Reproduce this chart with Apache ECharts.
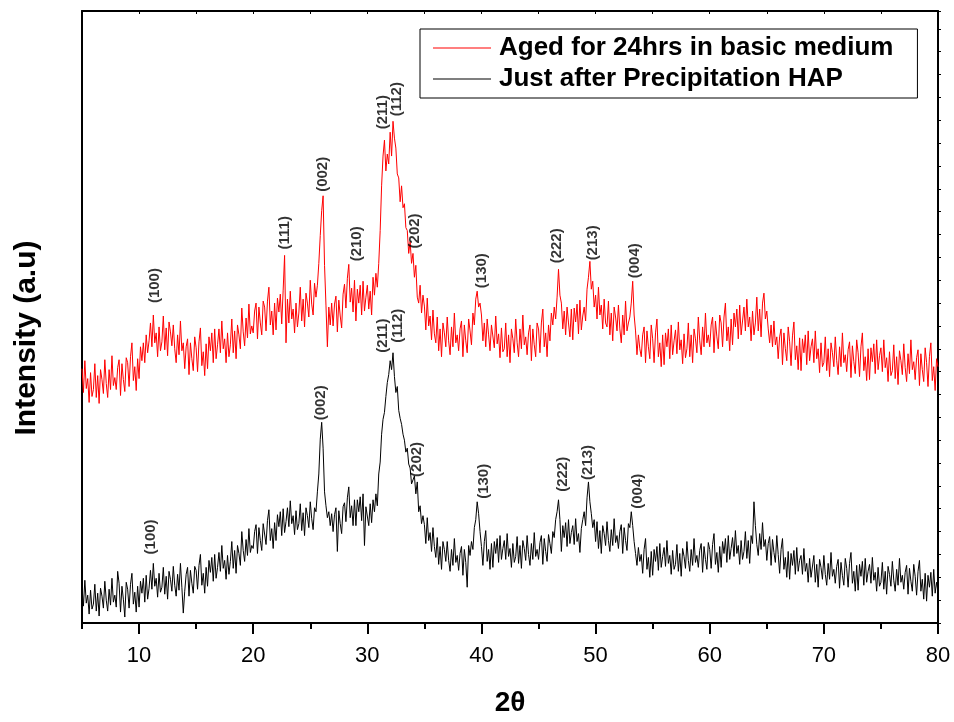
<!DOCTYPE html>
<html>
<head>
<meta charset="utf-8">
<script src="https://cdn.jsdelivr.net/npm/echarts@6/dist/echarts.min.js"></script>
<style>
  html, body { margin: 0; padding: 0; background: #fff; }
  #chart { width: 954px; height: 722px; }
</style>
</head>
<body>
<div id="chart"></div>
<script>
// 2theta grid, 0.125 deg steps from 5 to 80
const twoTheta = Array.from({ length: 601 }, (_, i) => 5 + i * 0.125);

// intensities (arbitrary units), 8 points per degree
const agedIntensity = [
  256, 232, 264, 236, 246, 222, 252, 228,  235, 261, 227, 249, 221, 255, 245, 231, // 5-6
  265, 241, 227, 255, 235, 269, 239, 247,  235, 257, 265, 229, 261, 245, 233, 267, // 7-8
  262, 238, 268, 282, 244, 258, 234, 266,  246, 278, 264, 282, 262, 290, 272, 284, // 9-10
  302, 278, 310, 282, 292, 268, 298, 274,  283, 309, 275, 297, 269, 303, 293, 279, // 11-12
  300, 276, 262, 290, 270, 304, 274, 282,  256, 278, 286, 250, 282, 266, 254, 288, // 13-14
  277, 253, 283, 297, 259, 273, 249, 281,  256, 288, 274, 292, 262, 296, 266, 280, // 15-16
  296, 272, 304, 276, 286, 262, 292, 268,  280, 306, 272, 294, 266, 300, 290, 276, // 17-18
  317, 293, 279, 307, 287, 321, 291, 299,  292, 314, 322, 286, 318, 302, 290, 324, // 19-20
  318, 294, 324, 338, 300, 314, 290, 322,  295, 327, 313, 331, 301, 335, 370, 282, // 21-22
  326, 302, 334, 306, 316, 292, 322, 298,  312, 338, 304, 326, 298, 332, 322, 308, // 23-24
  345, 321, 310, 342, 328, 340, 362, 390,  415, 430, 360, 320, 278, 318, 300, 322, // 25-26
  299, 321, 329, 293, 325, 309, 297, 331,  341, 317, 347, 361, 323, 337, 313, 345, // 27-28
  304, 336, 322, 340, 310, 344, 314, 328,  340, 316, 334, 310, 348, 330, 352, 338, // 29-30
  362, 395, 440, 470, 486, 455, 472, 462,  494, 470, 505, 488, 478, 452, 448, 424, // 31-32
  440, 418, 422, 398, 395, 372, 384, 362,  372, 348, 360, 328, 322, 340, 312, 330, // 33-34
  319, 295, 327, 299, 309, 285, 315, 291,  282, 308, 274, 296, 268, 302, 292, 278, // 35-36
  308, 284, 270, 298, 278, 312, 282, 290,  274, 296, 304, 268, 300, 284, 272, 306, // 37-38
  294, 280, 312, 300, 326, 334, 318, 322,  310, 284, 302, 278, 306, 290, 274, 300, // 39-40
  301, 277, 309, 281, 291, 267, 297, 273,  276, 302, 268, 290, 262, 296, 286, 272, // 41-42
  306, 282, 268, 296, 276, 310, 280, 288,  270, 292, 300, 264, 296, 280, 268, 302, // 43-44
  296, 272, 302, 316, 278, 292, 268, 300,  284, 312, 300, 318, 306, 328, 356, 330, // 45-46
  322, 296, 314, 290, 318, 302, 288, 316,  285, 317, 303, 321, 291, 325, 295, 309, // 47-48
  318, 304, 336, 348, 364, 336, 344, 318,  330, 306, 338, 310, 320, 296, 326, 302, // 49-50
  298, 324, 290, 312, 284, 318, 308, 294,  320, 296, 282, 310, 290, 324, 294, 302, // 51-52
  308, 322, 344, 310, 294, 270, 290, 276,  268, 290, 298, 262, 294, 278, 266, 300, // 53-54
  286, 262, 292, 306, 268, 282, 258, 290,  260, 292, 278, 296, 266, 300, 270, 284, // 55-56
  295, 271, 303, 275, 285, 261, 291, 267,  276, 302, 268, 290, 262, 296, 286, 272, // 57-58
  308, 284, 270, 298, 278, 312, 282, 290,  278, 300, 308, 272, 304, 288, 276, 310, // 59-60
  302, 278, 308, 322, 284, 298, 274, 306,  280, 312, 298, 316, 286, 320, 290, 304, // 61-62
  318, 294, 326, 298, 308, 284, 314, 290,  302, 328, 294, 316, 288, 322, 332, 306, // 63-64
  314, 296, 282, 300, 278, 304, 280, 288,  266, 288, 296, 260, 292, 276, 264, 298, // 65-66
  283, 259, 289, 303, 265, 279, 255, 287,  254, 286, 272, 290, 260, 294, 264, 278, // 67-68
  286, 262, 294, 266, 276, 252, 282, 258,  262, 288, 254, 276, 248, 282, 272, 258, // 69-70
  288, 264, 250, 278, 258, 292, 262, 270,  253, 275, 283, 247, 279, 263, 251, 285, // 71-72
  272, 248, 278, 292, 254, 268, 244, 276,  245, 277, 263, 281, 251, 285, 255, 269, // 73-74
  277, 253, 285, 257, 267, 243, 273, 249,  254, 280, 246, 268, 240, 274, 264, 250, // 75-76
  281, 257, 243, 271, 251, 285, 255, 263,  245, 267, 275, 239, 271, 255, 243, 277, // 77-78
  262, 238, 268, 282, 244, 258, 234, 266,                                          // 79
  258
];

const freshIntensity = [
  36, 17, 43, 20, 28, 9, 33, 14,  19, 39, 12, 30, 7, 35, 27, 15, // 5-6
  42, 23, 12, 34, 18, 45, 21, 28,  16, 52, 40, 11, 37, 24, 6, 41, // 7-8
  34, 15, 39, 50, 19, 31, 11, 37,  16, 42, 30, 45, 21, 48, 24, 35, // 9-10
  53, 34, 60, 37, 45, 26, 50, 31,  36, 56, 29, 47, 24, 52, 44, 32, // 11-12
  57, 38, 27, 49, 33, 60, 36, 10,  32, 49, 56, 27, 53, 40, 30, 57, // 13-14
  53, 34, 58, 69, 38, 50, 30, 56,  37, 63, 51, 66, 42, 69, 45, 56, // 15-16
  71, 52, 78, 55, 63, 44, 68, 49,  62, 82, 55, 73, 50, 78, 70, 58, // 17-18
  92, 73, 62, 84, 68, 95, 71, 78,  75, 92, 99, 70, 96, 83, 73, 100, // 19-20
  98, 79, 103, 114, 83, 95, 75, 101,  83, 109, 97, 112, 88, 115, 91, 102, // 21-22
  116, 97, 123, 100, 108, 89, 113, 94,  100, 120, 93, 111, 88, 116, 108, 96, // 23-24
  122, 105, 94, 116, 112, 132, 150, 185,  202, 176, 132, 118, 106, 112, 98, 110, // 25-26
  92, 109, 116, 72, 113, 100, 90, 117,  121, 102, 126, 137, 106, 118, 98, 124, // 27-28
  98, 124, 112, 127, 103, 130, 78, 117,  117, 98, 120, 101, 124, 112, 130, 118, // 29-30
  150, 162, 190, 205, 212, 228, 242, 250,  264, 255, 272, 248, 232, 238, 214, 206, // 31-32
  200, 190, 184, 172, 176, 160, 156, 140,  138, 148, 130, 142, 112, 118, 100, 108, // 33-34
  99, 80, 106, 83, 91, 72, 96, 77,  66, 86, 59, 77, 54, 82, 74, 62, // 35-36
  82, 63, 52, 74, 58, 85, 61, 68,  53, 70, 77, 48, 74, 61, 36, 78, // 37-38
  68, 82, 74, 96, 104, 122, 110, 92,  77, 58, 82, 93, 62, 74, 54, 80, // 39-40
  56, 82, 70, 85, 61, 88, 64, 75,  83, 64, 90, 67, 75, 56, 80, 61, // 41-42
  67, 87, 60, 78, 55, 83, 75, 63,  88, 69, 58, 80, 64, 91, 67, 74, // 43-44
  64, 81, 88, 59, 85, 72, 62, 89,  80, 70, 92, 86, 104, 112, 124, 104, // 45-46
  72, 98, 86, 101, 77, 104, 80, 91,  98, 79, 105, 82, 90, 71, 95, 104, // 47-48
  112, 98, 126, 142, 122, 110, 96, 104,  82, 102, 75, 93, 70, 98, 90, 78, // 49-50
  102, 83, 72, 94, 78, 105, 81, 88,  75, 92, 99, 70, 96, 83, 73, 100, // 51-52
  96, 112, 98, 82, 70, 58, 76, 62,  69, 50, 74, 85, 54, 66, 46, 72, // 53-54
  48, 74, 62, 77, 53, 80, 56, 67,  76, 57, 83, 60, 68, 49, 73, 54, // 55-56
  59, 79, 52, 70, 47, 75, 67, 55,  82, 63, 52, 74, 58, 85, 61, 68, // 57-58
  56, 73, 80, 51, 77, 64, 54, 81,  74, 55, 79, 90, 59, 71, 51, 77, // 59-60
  56, 82, 70, 85, 61, 88, 64, 75,  86, 67, 93, 70, 78, 59, 83, 64, // 61-62
  72, 92, 65, 83, 60, 88, 80, 122,  98, 79, 68, 90, 74, 101, 77, 84, // 63-64
  63, 80, 87, 58, 84, 71, 61, 88,  69, 50, 74, 85, 54, 66, 46, 72, // 65-66
  44, 70, 58, 73, 49, 76, 52, 63,  68, 49, 75, 52, 60, 41, 65, 46, // 67-68
  48, 68, 41, 59, 36, 64, 56, 44,  68, 49, 38, 60, 44, 71, 47, 54, // 69-70
  40, 57, 64, 35, 61, 48, 38, 65,  55, 36, 60, 71, 40, 52, 32, 58, // 71-72
  33, 59, 47, 62, 38, 65, 41, 52,  59, 40, 66, 43, 51, 32, 56, 37, // 73-74
  41, 61, 34, 52, 29, 57, 49, 37,  62, 43, 32, 54, 38, 65, 41, 48, // 75-76
  34, 51, 58, 29, 55, 42, 32, 59,  47, 28, 52, 63, 32, 44, 24, 50, // 77-78
  22, 48, 36, 51, 27, 54, 30, 41,                                  // 79
  32
];

// peak indexing labels: [2theta, intensity at label foot, text]
const agedPeaks = [
  [11.4, 322, '(100)'], [22.8, 376, '(111)'], [26.1, 434, '(002)'], [29.1, 364, '(210)'],
  [31.4, 497, '(211)'], [32.6, 510, '(112)'], [34.2, 377, '(202)'], [40.0, 337, '(130)'],
  [46.6, 362, '(222)'], [49.8, 365, '(213)'], [53.4, 347, '(004)']
];
const freshPeaks = [
  [11.0, 69, '(100)'], [25.9, 204, '(002)'], [31.4, 272, '(211)'], [32.7, 282, '(112)'],
  [34.3, 147, '(202)'], [40.2, 125, '(130)'], [47.1, 132, '(222)'], [49.3, 144, '(213)'],
  [53.7, 115, '(004)']
];

const majorTicks = [10, 20, 30, 40, 50, 60, 70, 80];
const minorTicks = [5, 15, 25, 35, 45, 55, 65, 75];

const fontFamily = 'Arial, "Liberation Sans", sans-serif';

const chart = echarts.init(document.getElementById('chart'), null, { renderer: 'canvas' });

const pairs = (ys) => ys.map((y, i) => [twoTheta[i], y]);

const peakLabelSeries = (data) => ({
  type: 'scatter',
  data: data,
  symbolSize: 0,
  silent: true,
  z: 5,
  label: {
    show: true,
    position: 'inside',
    rotate: 90,
    align: 'left',
    verticalAlign: 'middle',
    formatter: (p) => p.data[2],
    color: '#000',
    fontSize: 15,
    fontWeight: 'bold',
    fontFamily: fontFamily,
  },
});

const option = {
  animation: false,
  backgroundColor: '#fff',
  textStyle: { fontFamily: fontFamily },
  grid: { left: 82, right: 16, top: 11, bottom: 95 },
  legend: {
    data: ['Aged for 24hrs in basic medium', 'Just after Precipitation HAP'],
    orient: 'vertical',
    left: 420,
    top: 29,
    padding: [6, 24, 6, 13],
    itemGap: 5,
    itemWidth: 58,
    itemHeight: 1,
    icon: 'rect',
    borderColor: '#000',
    borderWidth: 1,
    selectedMode: false,
    textStyle: {
      color: '#000',
      fontSize: 26,
      fontWeight: 'bold',
      fontFamily: fontFamily,
      padding: [0, 0, 0, 3],
    },
  },
  xAxis: [
    {
      type: 'value',
      min: 5,
      max: 80,
      position: 'bottom',
      name: '2θ',
      nameLocation: 'middle',
      nameGap: 66,
      nameTextStyle: { color: '#000', fontSize: 28, fontWeight: 'bold', fontFamily: fontFamily },
      axisLine: { show: true, onZero: false, lineStyle: { color: '#000', width: 2 } },
      axisTick: { show: true, customValues: majorTicks, length: 11, lineStyle: { color: '#000', width: 2 } },
      axisLabel: { customValues: majorTicks, color: '#000', fontSize: 22, margin: 22, fontFamily: fontFamily },
      splitLine: { show: false },
    },
    {
      // minor ticks at the 5s
      type: 'value',
      min: 5,
      max: 80,
      position: 'bottom',
      axisLine: { show: false },
      axisTick: { show: true, customValues: minorTicks, length: 6, lineStyle: { color: '#000', width: 2 } },
      axisLabel: { show: false },
      splitLine: { show: false },
    },
    {
      type: 'value',
      min: 5,
      max: 80,
      interval: 5,
      position: 'top',
      axisLine: { show: true, onZero: false, lineStyle: { color: '#000', width: 2 } },
      axisTick: { show: true, inside: true, length: 3, lineStyle: { color: '#000', width: 1 } },
      axisLabel: { show: false },
      splitLine: { show: false },
    },
  ],
  yAxis: [
    {
      type: 'value',
      min: 0,
      max: 616,
      name: 'Intensity (a.u)',
      nameLocation: 'middle',
      nameGap: 40,
      nameTextStyle: {
        color: '#000',
        fontSize: 30,
        fontWeight: 'bold',
        fontFamily: fontFamily,
        padding: [0, 42, 0, 0],
      },
      axisLine: { show: true, onZero: false, lineStyle: { color: '#000', width: 2 } },
      axisTick: { show: false },
      axisLabel: { show: false },
      splitLine: { show: false },
    },
    {
      type: 'value',
      min: 0,
      max: 616,
      interval: 23,
      position: 'right',
      axisLine: { show: true, onZero: false, lineStyle: { color: '#000', width: 2 } },
      axisTick: { show: true, length: 3, lineStyle: { color: '#000', width: 1 } },
      axisLabel: { show: false },
      splitLine: { show: false },
    },
  ],
  series: [
    {
      name: 'Aged for 24hrs in basic medium',
      type: 'line',
      data: pairs(agedIntensity),
      showSymbol: false,
      symbol: 'none',
      color: '#ff0000',
      lineStyle: { color: '#ff0000', width: 1 },
      z: 3,
    },
    {
      name: 'Just after Precipitation HAP',
      type: 'line',
      data: pairs(freshIntensity),
      showSymbol: false,
      symbol: 'none',
      color: '#000',
      lineStyle: { color: '#000', width: 1 },
      z: 3,
    },
    peakLabelSeries(agedPeaks),
    peakLabelSeries(freshPeaks),
  ],
};

chart.setOption(option);
</script>
</body>
</html>
